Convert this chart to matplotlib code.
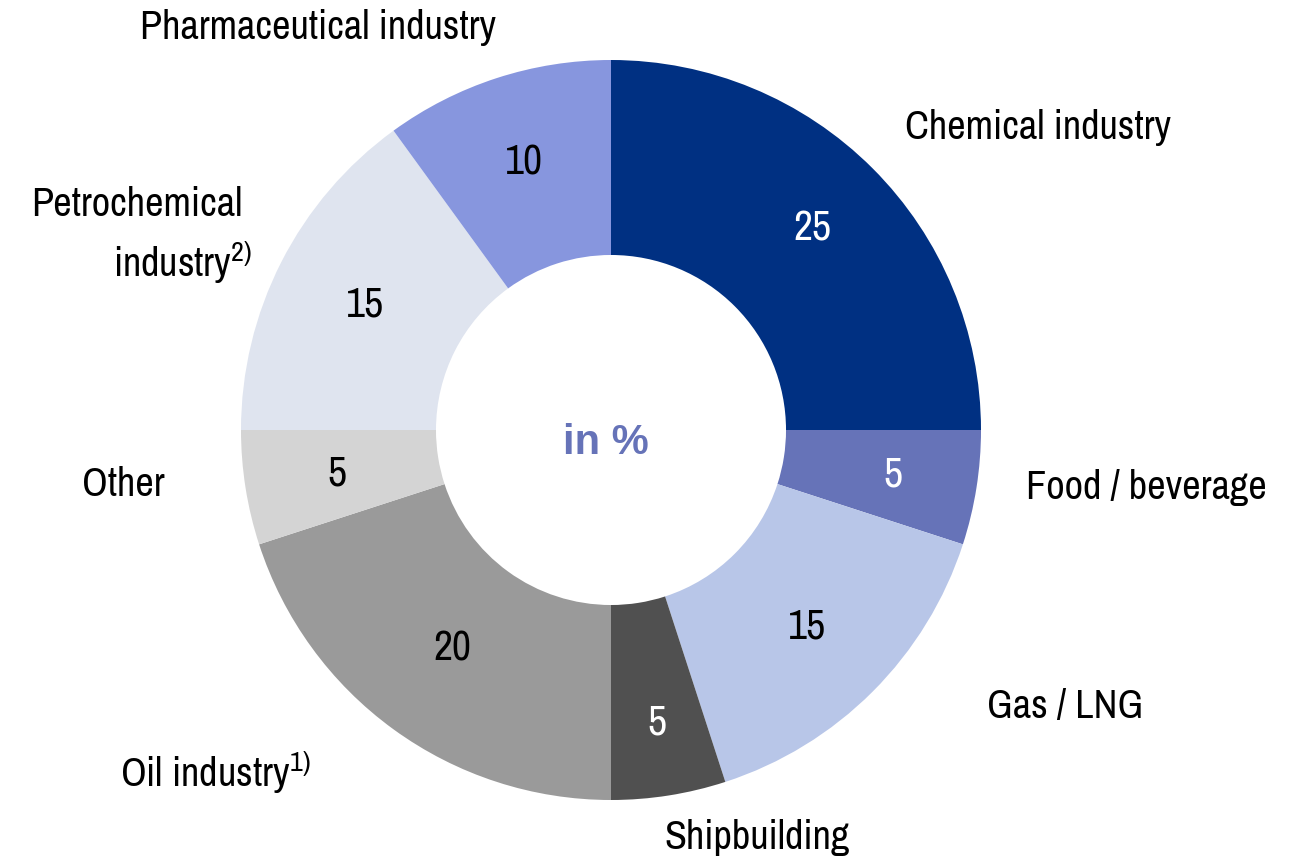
import matplotlib
matplotlib.use("Agg")
import numpy as np
import matplotlib.pyplot as plt
from matplotlib import font_manager

names = {f.name for f in font_manager.fontManager.ttflist}
FONT = "Liberation Sans"
for cand in ["Liberation Sans Narrow", "Arial Narrow", "Nimbus Sans Narrow",
             "Archivo Narrow", "Roboto Condensed", "Liberation Sans"]:
    if cand in names:
        FONT = cand
        break
plt.rcParams['font.family'] = [FONT, 'DejaVu Sans']
plt.rcParams['mathtext.fontset'] = 'custom'
plt.rcParams['mathtext.rm'] = FONT
plt.rcParams['mathtext.it'] = FONT

categories = ["Chemical industry", "Food / beverage", "Gas / LNG", "Shipbuilding",
              "Oil industry$^{1)}$", "Other", "Petrochemical\nindustry$^{2)}$",
              "Pharmaceutical industry"]
values = [25, 5, 15, 5, 20, 5, 15, 10]
colors = ["#003082", "#6673B8", "#B8C6E8", "#505050", "#9A9A9A", "#D4D4D4",
          "#DFE4EF", "#8796DE"]
value_colors = ["white", "white", "black", "white", "black", "black", "black", "black"]
# radial position of each value label, as a fraction of the outer radius
value_dist = [0.77, 0.77, 0.75, 0.80, 0.73, 0.75, 0.745, 0.76]

W, H = 1301, 861
fig = plt.figure(figsize=(W / 100, H / 100), dpi=100)
ax = fig.add_axes([0, 0, 1, 1])

cx, cy, R = 611, H - 430, 370
wedges, texts = ax.pie(values, labels=[str(v) for v in values], colors=colors,
                       startangle=90, counterclock=False, center=(cx, cy), radius=R,
                       labeldistance=0.755, wedgeprops=dict(width=R * 0.527, linewidth=0),
                       textprops=dict(fontsize=30, ha='center', va='center'),
                       frame=True)
ax.set_xlim(0, W)
ax.set_ylim(0, H)
ax.set_aspect('equal')
ax.axis('off')
for w, t, c, d in zip(wedges, texts, value_colors, value_dist):
    ang = np.deg2rad((w.theta1 + w.theta2) / 2)
    t.set_position((cx + d * R * np.cos(ang), cy + d * R * np.sin(ang)))
    t.set_ha('center')
    t.set_va('center')
    t.set_color(c)

# label anchor positions (pixels from top-left), one entry per line
label_pos = [[(1038, 128, 'center')], [(1146, 487, 'center')], [(1065, 706, 'center')],
             [(757, 838, 'center')], [(215, 772, 'center')], [(123, 485, 'center')],
             [(242, 205, 'right'), (252, 262, 'right')], [(318, 28, 'center')]]
for lab, poss in zip(categories, label_pos):
    for line, (x, y, ha) in zip(lab.split("\n"), poss):
        ax.text(x, H - y, line, fontsize=29, ha=ha, va='center', color='black')

ax.text(cx - 5, H - 443, "in %", fontsize=30, fontweight='bold', color="#6673B8",
        ha='center', va='center', family=['Liberation Sans', 'DejaVu Sans'])

fig.savefig("out.png", dpi=100)
